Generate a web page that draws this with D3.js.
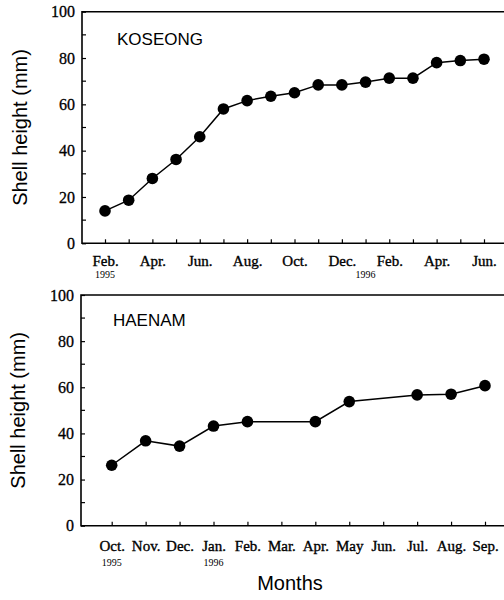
<!DOCTYPE html>
<html>
<head>
<meta charset="utf-8">
<script src="https://cdn.jsdelivr.net/npm/d3@7"></script>
<style>
  body { margin: 0; background: #fff; }
  svg { display: block; }
</style>
</head>
<body>
<div id="vis"></div>
<script>
// Chart data
const koseongTicks = ['Feb.', '', 'Apr.', '', 'Jun.', '', 'Aug.', '', 'Oct.', '', 'Dec.', '', 'Feb.', '', 'Apr.', '', 'Jun.'];
const koseongValues = [14, 18.6, 28, 36.2, 46, 58, 61.6, 63.5, 65, 68.4, 68.4, 69.6, 71.3, 71.3, 78, 78.9, 79.5];
const koseongYears = [{ i: 0, label: '1995' }, { i: 11, label: '1996' }];

const haenamTicks = ['Oct.', 'Nov.', 'Dec.', 'Jan.', 'Feb.', 'Mar.', 'Apr.', 'May', 'Jun.', 'Jul.', 'Aug.', 'Sep.'];
const haenamValues = [26.2, 36.8, 34.5, 43.2, 45.1, null, 45.1, 53.8, null, 56.7, 57, 60.7];
const haenamYears = [{ i: 0, label: '1995' }, { i: 3, label: '1996' }];

const yTicks = [0, 20, 40, 60, 80, 100];
const yMinorTicks = [10, 30, 50, 70, 90];

const WIDTH_VIS = 504;
const HEIGHT_VIS = 600;
const SERIF = '"Liberation Serif", "Times New Roman", serif';
const SANS = '"Liberation Sans", Arial, sans-serif';

const SVG = d3.select('#vis').append('svg')
  .attr('width', WIDTH_VIS)
  .attr('height', HEIGHT_VIS);

function drawPanel(cfg) {
  const g = SVG.append('g');

  const x = d3.scaleLinear().domain(cfg.xDomain).range(cfg.xRange);
  const y = d3.scaleLinear().domain([0, 100]).range([cfg.bottom, cfg.top]);

  // x axis ticks (inside) and month labels
  const xAxis = d3.axisBottom(x)
    .tickValues(d3.range(cfg.ticks.length))
    .tickFormat((i) => cfg.ticks[i])
    .tickSizeInner(-4)
    .tickSizeOuter(0)
    .tickPadding(cfg.labelPad);
  const gx = g.append('g')
    .attr('transform', `translate(0,${cfg.bottom})`)
    .call(xAxis);
  gx.select('.domain').remove();
  gx.selectAll('.tick line').attr('stroke', '#000').attr('stroke-width', 1.2);
  gx.selectAll('.tick text')
    .attr('font-family', SERIF)
    .attr('font-size', 15)
    .attr('fill', '#000')
    .attr('stroke', '#000')
    .attr('stroke-width', 0.35);

  // years under the month labels
  g.selectAll('.year')
    .data(cfg.years)
    .join('text')
    .attr('x', (d) => x(d.i))
    .attr('y', cfg.bottom + cfg.yearPad)
    .attr('text-anchor', 'middle')
    .attr('font-family', SERIF)
    .attr('font-size', 10)
    .text((d) => d.label);

  // y axis, ticks pointing inside
  const yAxis = d3.axisLeft(y)
    .tickValues(yTicks)
    .tickSizeInner(-4)
    .tickSizeOuter(0)
    .tickPadding(7);
  const gy = g.append('g')
    .attr('transform', `translate(${cfg.left},0)`)
    .call(yAxis);
  gy.select('.domain').remove();
  gy.selectAll('.tick line').attr('stroke', '#000').attr('stroke-width', 1.2);
  gy.selectAll('.tick text')
    .attr('font-family', SERIF)
    .attr('font-size', 16)
    .attr('fill', '#000')
    .attr('stroke', '#000')
    .attr('stroke-width', 0.3);

  g.selectAll('.minor')
    .data(yMinorTicks)
    .join('line')
    .attr('x1', cfg.left)
    .attr('x2', cfg.left + 4)
    .attr('y1', (d) => y(d))
    .attr('y2', (d) => y(d))
    .attr('stroke', '#000')
    .attr('stroke-width', 1.2);

  // frame: left, top and bottom (runs off the right edge)
  g.append('path')
    .attr('d', `M${WIDTH_VIS},${cfg.top}H${cfg.left}V${cfg.bottom}H${WIDTH_VIS}`)
    .attr('fill', 'none')
    .attr('stroke', '#000')
    .attr('stroke-width', 1.6);

  // data line and dots
  const pts = cfg.values
    .map((v, i) => ({ i, v }))
    .filter((d) => d.v !== null);

  const line = d3.line()
    .x((d) => x(d.i))
    .y((d) => y(d.v));

  g.append('path')
    .datum(pts)
    .attr('d', line)
    .attr('fill', 'none')
    .attr('stroke', '#000')
    .attr('stroke-width', 1.5);

  g.selectAll('.dot')
    .data(pts)
    .join('circle')
    .attr('cx', (d) => x(d.i))
    .attr('cy', (d) => y(d.v))
    .attr('r', 5.8)
    .attr('fill', '#000');

  // site name
  g.append('text')
    .attr('x', cfg.nameX)
    .attr('y', cfg.nameY)
    .attr('font-family', SANS)
    .attr('font-size', 17)
    .text(cfg.name);

  // y axis title
  g.append('text')
    .attr('transform', `translate(${cfg.titleX},${(cfg.top + cfg.bottom) / 2}) rotate(-90)`)
    .attr('text-anchor', 'middle')
    .attr('font-family', SANS)
    .attr('font-size', 20)
    .text('Shell height (mm)');
}

drawPanel({
  name: 'KOSEONG',
  ticks: koseongTicks,
  values: koseongValues,
  years: koseongYears,
  xDomain: [0, 16],
  xRange: [105, 484],
  left: 82,
  top: 11.7,
  bottom: 243.3,
  labelPad: 12,
  yearPad: 35,
  nameX: 117,
  nameY: 45,
  titleX: 27,
});

drawPanel({
  name: 'HAENAM',
  ticks: haenamTicks,
  values: haenamValues,
  years: haenamYears,
  xDomain: [0, 11],
  xRange: [111.7, 485],
  left: 81,
  top: 295,
  bottom: 525.7,
  labelPad: 15,
  yearPad: 40,
  nameX: 113,
  nameY: 326,
  titleX: 25,
});

// shared x axis title
SVG.append('text')
  .attr('x', 290)
  .attr('y', 590)
  .attr('text-anchor', 'middle')
  .attr('font-family', SANS)
  .attr('font-size', 20)
  .text('Months');
</script>
</body>
</html>
